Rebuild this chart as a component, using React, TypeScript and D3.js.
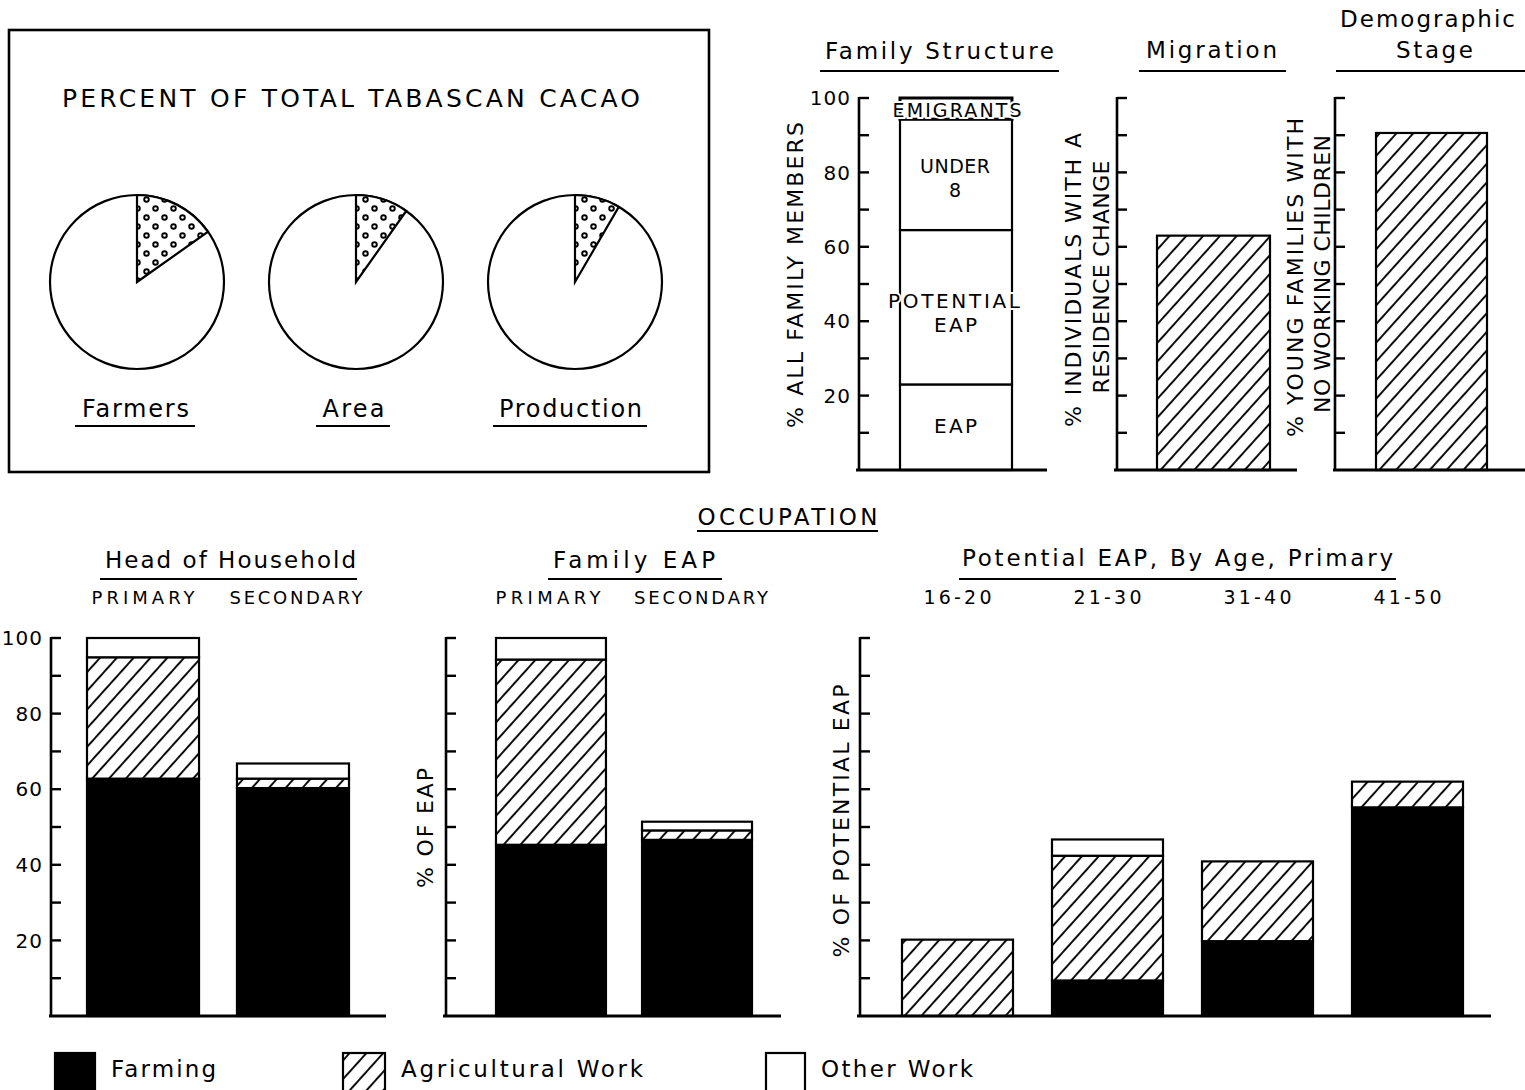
import React from 'react';
import * as d3 from 'd3';

// ---------------- data ----------------
const pieCategories = ['Farmers', 'Area', 'Production'];
const pieShares = [15.2, 9.8, 8.4];

const familySegments = ['EAP', 'POTENTIAL EAP', 'UNDER 8', 'EMIGRANTS'];
const familyValues = [23.0, 41.5, 29.8, 5.7];

const migrationValue = [63.0];
const demographicValue = [90.6];

const householdCats = ['PRIMARY', 'SECONDARY'];
const householdFarming = [62.8, 60.3];
const householdAgri = [32.1, 2.5];
const householdOther = [5.1, 4.0];

const familyEapCats = ['PRIMARY', 'SECONDARY'];
const familyEapFarming = [45.3, 46.6];
const familyEapAgri = [49.0, 2.5];
const familyEapOther = [5.7, 2.3];

const ageCats = ['16-20', '21-30', '31-40', '41-50'];
const ageFarming = [0, 9.4, 19.8, 55.2];
const ageAgri = [20.2, 33.0, 21.1, 6.8];
const ageOther = [0, 4.3, 0, 0];

const tickLabels = [20, 40, 60, 80, 100];
const legendItems = ['Farming', 'Agricultural Work', 'Other Work'];
const stackKeys = ['farming', 'agri', 'other'];

// ---------------- style ----------------
const FONT = "'DejaVu Sans', 'Noto Sans', sans-serif";
const INK = '#000';
const fills: Record<string, string> = { farming: INK, agri: 'url(#hatch)', other: '#fff' };

function Txt(props: any) {
  const { x, y, children, size = 22, anchor = 'middle', len, rotate, halo, dy } = props;
  const common: any = {
    fontFamily: FONT,
    fontSize: size,
    textAnchor: anchor,
    fill: INK,
    textLength: len,
    lengthAdjust: len ? 'spacing' : undefined,
  };
  if (halo) {
    common.stroke = '#fff';
    common.strokeWidth = 4;
    common.paintOrder = 'stroke';
  }
  if (rotate) {
    return (
      <text {...common} x={0} y={0} dominantBaseline="central" transform={`translate(${x},${y}) rotate(${rotate})`}>
        {children}
      </text>
    );
  }
  return (
    <text {...common} x={x} y={y} dy={dy}>
      {children}
    </text>
  );
}

function Underline({ x1, x2, y }: any) {
  return <line x1={x1} x2={x2} y1={y} y2={y} stroke={INK} strokeWidth={2} />;
}

function YAxis({ y, x, labels, tickLen = 10 }: any) {
  const ticks: number[] = y.ticks(10).filter((t: number) => t > 0);
  return (
    <g>
      <line x1={x} x2={x} y1={y(100) - 1} y2={y(0)} stroke={INK} strokeWidth={2.6} />
      {ticks.map((t) => (
        <line key={t} x1={x} x2={x + tickLen} y1={y(t)} y2={y(t)} stroke={INK} strokeWidth={2.4} />
      ))}
      {labels &&
        labels.map((t: number) => (
          <text key={'l' + t} x={x - 8} y={y(t)} dy="0.36em" textAnchor="end" fontFamily={FONT} fontSize={20} letterSpacing={1} fill={INK}>
            {t}
          </text>
        ))}
    </g>
  );
}

function Baseline({ y, x1, x2 }: any) {
  return <line x1={x1} x2={x2} y1={y(0)} y2={y(0)} stroke={INK} strokeWidth={3.2} />;
}

function StackedBars({ cats, farming, agri, other, x, y }: any) {
  const rows = cats.map((c: string, i: number) => ({ cat: c, farming: farming[i], agri: agri[i], other: other[i] }));
  const series = d3.stack<any>().keys(stackKeys)(rows);
  return (
    <g>
      {series.map((s) => (
        <g key={s.key}>
          {s
            .filter((d) => d[1] - d[0] > 0)
            .map((d) => (
              <rect
                key={d.data.cat}
                x={x(d.data.cat)}
                width={x.bandwidth()}
                y={y(d[1])}
                height={y(d[0]) - y(d[1])}
                fill={fills[s.key]}
                stroke={INK}
                strokeWidth={2.2}
              />
            ))}
        </g>
      ))}
    </g>
  );
}

export default function App() {
  // scales
  const yTop = d3.scaleLinear().domain([0, 100]).range([470, 98]);
  const yBot = d3.scaleLinear().domain([0, 100]).range([1016, 638]);

  const pieX = d3.scalePoint<string>().domain(pieCategories).range([137, 575]);
  const pieR = 87;
  const pieCy = 282;
  const pieGen = d3.pie<number>().sort(null).value((d) => d);
  const arcGen = d3.arc<any>().innerRadius(0).outerRadius(pieR);

  const xFam = d3.scaleBand<string>().domain(['family']).range([900, 1012]);
  const xMig = d3.scaleBand<string>().domain(['migration']).range([1157, 1270]);
  const xDem = d3.scaleBand<string>().domain(['demographic']).range([1376, 1487]);

  const xHead = d3.scaleBand<string>().domain(householdCats).range([87, 349]).paddingInner(0.253);
  const xFeap = d3.scaleBand<string>().domain(familyEapCats).range([496, 752]).paddingInner(0.247);
  const xAge = d3.scaleBand<string>().domain(ageCats).range([902, 1463]).paddingInner(0.26);

  const famStack = d3.stack<any>().keys(familySegments)([
    Object.fromEntries(familySegments.map((k, i) => [k, familyValues[i]])),
  ]);
  const famTop = (k: string) => famStack.find((s) => s.key === k)![0];

  const legendX = d3.scaleOrdinal<string, number>().domain(legendItems).range([55, 343, 766]);
  const legendKey = d3.scaleOrdinal<string, string>().domain(legendItems).range(stackKeys);

  return (
    <svg width={1525} height={1090} style={{ position: 'absolute', left: 0, top: 0, background: '#fff' }}>
      <defs>
        <pattern id="hatch" patternUnits="userSpaceOnUse" width={12.5} height={12.5} patternTransform="rotate(42)">
          <rect width={12.5} height={12.5} fill="#fff" />
          <line x1={2} x2={2} y1={-1} y2={14} stroke={INK} strokeWidth={1.9} />
        </pattern>
        <pattern id="dots" patternUnits="userSpaceOnUse" width={18} height={18} x={5} y={3}>
          <rect width={18} height={18} fill="#fff" />
          <circle cx={4.5} cy={4.5} r={2.3} fill="#fff" stroke={INK} strokeWidth={1.9} />
          <circle cx={13.5} cy={13.5} r={2.3} fill="#fff" stroke={INK} strokeWidth={1.9} />
        </pattern>
      </defs>

      {/* ---------- pie panel ---------- */}
      <rect x={9} y={30} width={700} height={442} fill="none" stroke={INK} strokeWidth={2.6} />
      <Txt x={351} y={107} size={25} len={578}>PERCENT OF TOTAL TABASCAN CACAO</Txt>
      {pieCategories.map((c, i) => {
        const arcs = pieGen([pieShares[i], 100 - pieShares[i]]);
        const cx = pieX(c)!;
        return (
          <g key={c}>
            <g transform={`translate(${cx},${pieCy})`}>
              <circle r={pieR} fill="#fff" stroke={INK} strokeWidth={2.2} />
              <path d={arcGen(arcs[0]) || ''} fill="url(#dots)" stroke={INK} strokeWidth={2.2} />
            </g>
          </g>
        );
      })}
      <Txt x={135.5} y={417} size={24} len={107}>Farmers</Txt>
      <Underline x1={75} x2={195} y={426} />
      <Txt x={353.5} y={417} size={24} len={62}>Area</Txt>
      <Underline x1={316} x2={390} y={426} />
      <Txt x={570.5} y={417} size={24} len={143}>Production</Txt>
      <Underline x1={493} x2={647} y={426} />

      {/* ---------- family structure ---------- */}
      <Txt x={939.5} y={59} size={23} len={229}>Family Structure</Txt>
      <Underline x1={820} x2={1059} y={71} />
      <YAxis y={yTop} x={859} labels={tickLabels} />
      {familySegments.map((k) => {
        const d = famTop(k);
        return (
          <rect
            key={k}
            x={xFam('family')}
            width={xFam.bandwidth()}
            y={yTop(d[1])}
            height={yTop(d[0]) - yTop(d[1])}
            fill="#fff"
            stroke={INK}
            strokeWidth={k === 'EMIGRANTS' ? 3 : 2.2}
          />
        );
      })}
      <Baseline y={yTop} x1={856} x2={1047} />
      <Txt x={957} y={117} size={19} len={129} halo>EMIGRANTS</Txt>
      <Txt x={955} y={173} size={19} len={70}>UNDER</Txt>
      <Txt x={955} y={197} size={19}>8</Txt>
      <Txt x={954} y={308} size={20} len={132} halo>POTENTIAL</Txt>
      <Txt x={955.5} y={332} size={20} len={43}>EAP</Txt>
      <Txt x={955.5} y={433} size={20} len={43}>EAP</Txt>
      <Txt x={795} y={275} size={22} len={306} rotate={-90}>% ALL FAMILY MEMBERS</Txt>

      {/* ---------- migration ---------- */}
      <Txt x={1211.5} y={58} size={23} len={131}>Migration</Txt>
      <Underline x1={1139} x2={1286} y={71} />
      <YAxis y={yTop} x={1117} />
      {migrationValue.map((v, i) => (
        <rect key={i} x={xMig('migration')} width={xMig.bandwidth()} y={yTop(v)} height={yTop(0) - yTop(v)} fill="url(#hatch)" stroke={INK} strokeWidth={2.2} />
      ))}
      <Baseline y={yTop} x1={1114} x2={1297} />
      <Txt x={1073} y={280} size={22} len={294} rotate={-90}>% INDIVIDUALS WITH A</Txt>
      <Txt x={1101} y={277} size={22} len={233} rotate={-90}>RESIDENCE CHANGE</Txt>

      {/* ---------- demographic stage ---------- */}
      <Txt x={1427.5} y={27} size={23} len={175}>Demographic</Txt>
      <Txt x={1434.5} y={58} size={23} len={77}>Stage</Txt>
      <Underline x1={1336} x2={1525} y={71} />
      <YAxis y={yTop} x={1335} />
      {demographicValue.map((v, i) => (
        <rect key={i} x={xDem('demographic')} width={xDem.bandwidth()} y={yTop(v)} height={yTop(0) - yTop(v)} fill="url(#hatch)" stroke={INK} strokeWidth={2.2} />
      ))}
      <Baseline y={yTop} x1={1333} x2={1525} />
      <Txt x={1295} y={277.5} size={22} len={319} rotate={-90}>% YOUNG FAMILIES WITH</Txt>
      <Txt x={1322} y={274} size={22} len={278} rotate={-90}>NO WORKING CHILDREN</Txt>

      {/* ---------- occupation ---------- */}
      <Txt x={787.5} y={525} size={23} len={180}>OCCUPATION</Txt>
      <Underline x1={697} x2={878} y={531} />

      {/* head of household */}
      <Txt x={230.5} y={568} size={23} len={251}>Head of Household</Txt>
      <Underline x1={100} x2={357} y={579} />
      {householdCats.map((c) => (
        <Txt key={c} x={xHead(c)! + xHead.bandwidth() / 2 + (c === 'PRIMARY' ? 0 : 3)} y={604} size={18} len={c === 'PRIMARY' ? 103 : 133}>{c}</Txt>
      ))}
      <YAxis y={yBot} x={51} labels={tickLabels} />
      <StackedBars cats={householdCats} farming={householdFarming} agri={householdAgri} other={householdOther} x={xHead} y={yBot} />
      <Baseline y={yBot} x1={49} x2={386} />

      {/* family EAP */}
      <Txt x={634} y={568} size={23} len={162}>Family EAP</Txt>
      <Underline x1={548} x2={722} y={579} />
      {familyEapCats.map((c) => (
        <Txt key={c} x={xFeap(c)! + xFeap.bandwidth() / 2 + (c === 'PRIMARY' ? -3 : 4)} y={604} size={18} len={c === 'PRIMARY' ? 105 : 134}>{c}</Txt>
      ))}
      <YAxis y={yBot} x={446} />
      <StackedBars cats={familyEapCats} farming={familyEapFarming} agri={familyEapAgri} other={familyEapOther} x={xFeap} y={yBot} />
      <Baseline y={yBot} x1={443} x2={781} />
      <Txt x={425} y={828} size={22} len={120} rotate={-90}>% OF EAP</Txt>

      {/* potential EAP by age */}
      <Txt x={1177.5} y={566} size={23} len={431}>Potential EAP, By Age, Primary</Txt>
      <Underline x1={959} x2={1396} y={579} />
      {ageCats.map((c) => (
        <Txt key={c} x={xAge(c)! + xAge.bandwidth() / 2} y={604} size={19} len={68}>{c}</Txt>
      ))}
      <YAxis y={yBot} x={860} />
      <StackedBars cats={ageCats} farming={ageFarming} agri={ageAgri} other={ageOther} x={xAge} y={yBot} />
      <Baseline y={yBot} x1={857} x2={1491} />
      <Txt x={841} y={821} size={22} len={273} rotate={-90}>% OF POTENTIAL EAP</Txt>

      {/* ---------- legend ---------- */}
      {legendItems.map((item) => {
        const lx = legendX(item);
        const key = legendKey(item);
        const w = key === 'farming' ? 40 : key === 'agri' ? 42 : 39;
        const len = key === 'farming' ? 105 : key === 'agri' ? 242 : 152;
        return (
          <g key={item}>
            <rect x={lx} y={1053} width={w} height={40} fill={fills[key]} stroke={INK} strokeWidth={2.2} />
            <Txt x={lx + w + 16} y={1077} size={23} anchor="start" len={len}>{item}</Txt>
          </g>
        );
      })}
    </svg>
  );
}
